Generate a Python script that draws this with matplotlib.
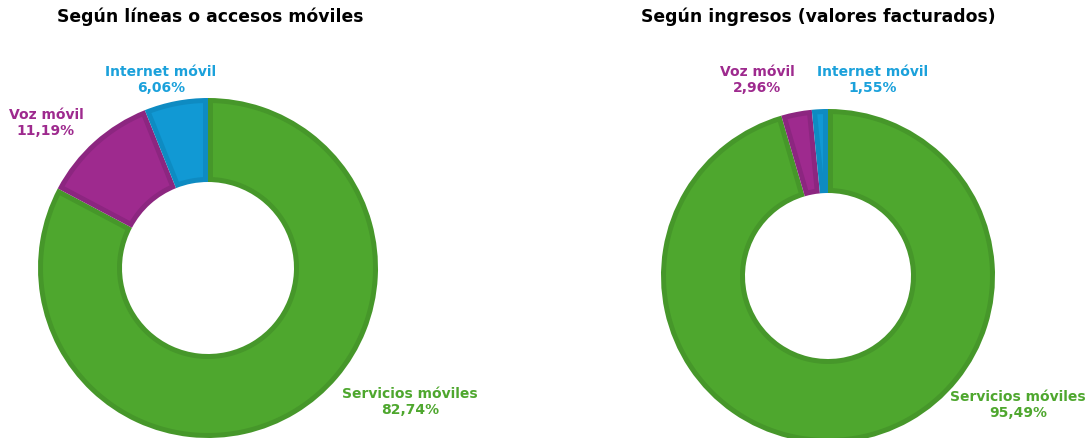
import numpy as np
import matplotlib.pyplot as plt
from matplotlib.patches import Polygon

# data
categories = ["Servicios móviles", "Voz móvil", "Internet móvil"]
lineas = [82.74, 11.19, 6.06]
ingresos = [95.49, 2.96, 1.55]
titles = ["Según líneas o accesos móviles", "Según ingresos (valores facturados)"]

face_cols = ["#4ea72e", "#9e2a8e", "#1199d4"]
edge_cols = ["#46972a", "#8c2680", "#0e8bc2"]
text_cols = ["#4ea72e", "#9e2a8e", "#1ba1db"]

W, H = 1085, 438
fig = plt.figure(figsize=(W / 100, H / 100), dpi=100)
ax = fig.add_axes([0, 0, 1, 1])
ax.set_xlim(0, W)
ax.set_ylim(0, H)
ax.set_aspect("equal")
ax.axis("off")

def fmt(v):
    return f"{v:.2f}".replace(".", ",") + "%"

def inset_poly(w, d):
    # lighter inner part of a wedge, leaving a border of width d inside it
    cx, cy = w.center
    r1 = w.r
    r0 = w.r - w.width
    t0, t1 = np.radians(w.theta1), np.radians(w.theta2)
    ro, ri = r1 - d, r0 + d
    a0o, a1o = t0 + np.arcsin(d / ro), t1 - np.arcsin(d / ro)
    if a1o <= a0o:
        return None
    a = np.linspace(a0o, a1o, 200)
    pts = list(zip(cx + ro * np.cos(a), cy + ro * np.sin(a)))
    a0i, a1i = t0 + np.arcsin(d / ri), t1 - np.arcsin(d / ri)
    if a1i > a0i:
        a = np.linspace(a1i, a0i, 200)
        pts += list(zip(cx + ri * np.cos(a), cy + ri * np.sin(a)))
    else:
        rho = d / np.sin((t1 - t0) / 2)
        am = (t0 + t1) / 2
        pts.append((cx + rho * np.cos(am), cy + rho * np.sin(am)))
    return pts

def donut(vals, cx, cy, r, hole):
    wedges, _ = ax.pie(vals, center=(cx, H - cy), radius=r, startangle=90, counterclock=False,
                       colors=edge_cols, wedgeprops=dict(width=r - hole, linewidth=0))
    for w, fc in zip(wedges, face_cols):
        pts = inset_poly(w, 5)
        if pts is not None:
            ax.add_patch(Polygon(pts, closed=True, facecolor=fc, linewidth=0))
    ax.set_xlim(0, W)
    ax.set_ylim(0, H)

donut(lineas, 208, 268, 170, 86)
donut(ingresos, 828, 276, 167, 83)

# titles
ax.text(210, H - 17, titles[0], ha="center", va="center", fontsize=12.4, fontweight="bold", color="black")
ax.text(818, H - 17, titles[1], ha="center", va="center", fontsize=12.4, fontweight="bold", color="black")

# labels (x, y of the label centre in pixels)
lab_left = [(410, 402), (46, 123), (161, 80)]
lab_right = [(1018, 405), (757, 80), (873, 80)]
for vals, pos in [(lineas, lab_left), (ingresos, lab_right)]:
    for name, v, (x, y), c in zip(categories, vals, pos, text_cols):
        ax.text(x, H - y, name + "\n" + fmt(v), ha="center", va="center", fontsize=10,
                fontweight="bold", color=c, linespacing=1.2)

fig.savefig("out.png", dpi=100)
